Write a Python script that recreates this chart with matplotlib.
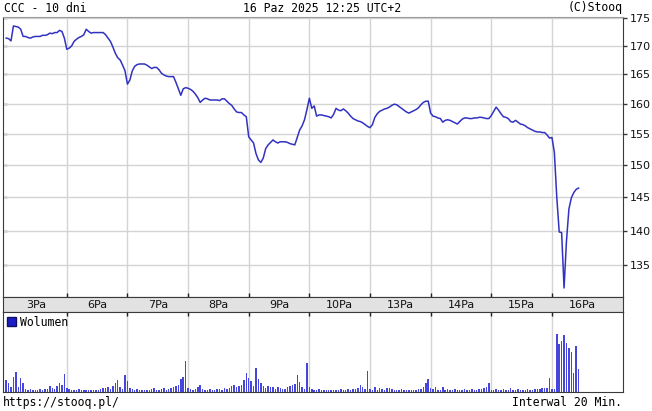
import numpy as np
import matplotlib.pyplot as plt
from matplotlib.patches import Patch
from matplotlib.ticker import FixedLocator, NullLocator, FixedFormatter

# teksty
title_left = "CCC - 10 dni"
title_mid = "16 Paz 2025 12:25 UTC+2"
title_right = "(C)Stooq"
foot_left = "https://stooq.pl/"
foot_right = "Interwal 20 Min."
vol_label = "Wolumen"

days = ["3Pa", "6Pa", "7Pa", "8Pa", "9Pa", "10Pa", "13Pa", "14Pa", "15Pa", "16Pa"]
bars_per_day = 25  # 20-minutowe swiece

price_ticks = [135, 140, 145, 150, 155, 160, 165, 170, 175]

# kurs (zamkniecia swiec 20 min)
p_3pa = [171.4, 171.3, 170.9, 173.6, 173.5, 173.4, 173.0, 171.7, 171.7, 171.5, 171.4, 171.6, 171.7,
         171.7, 171.7, 171.9, 171.9, 172.0, 172.3, 172.2, 172.4, 172.4, 172.8, 172.6, 171.4]
p_6pa = [169.4, 169.6, 170.0, 170.8, 171.2, 171.5, 171.7, 172.0, 173.0, 172.6, 172.3, 172.4, 172.4,
         172.4, 172.4, 172.4, 172.0, 171.4, 170.8, 169.8, 168.7, 167.9, 167.5, 166.6, 165.6]
p_7pa = [163.3, 164.0, 165.6, 166.4, 166.7, 166.8, 166.8, 166.8, 166.6, 166.3, 166.0, 166.2, 166.2,
         165.8, 165.2, 164.9, 164.7, 164.6, 164.6, 164.6, 163.6, 162.5, 161.4, 162.5, 162.7]
p_8pa = [162.6, 162.4, 162.1, 161.6, 161.0, 160.2, 160.6, 160.9, 160.8, 160.6, 160.6, 160.6, 160.6,
         160.5, 160.8, 160.8, 160.4, 160.0, 159.7, 159.1, 158.6, 158.5, 158.5, 158.1, 157.8]
p_9pa = [154.5, 154.0, 153.5, 151.8, 150.8, 150.4, 151.1, 152.6, 153.2, 153.6, 154.0, 153.7, 153.5,
         153.7, 153.7, 153.7, 153.6, 153.4, 153.3, 153.2, 154.4, 155.6, 156.3, 157.3, 159.0]
p_10pa = [160.9, 159.2, 159.6, 157.9, 158.1, 158.1, 158.0, 157.9, 157.8, 157.6, 158.2, 159.2, 158.9,
          158.8, 159.1, 158.8, 158.4, 157.9, 157.5, 157.3, 157.1, 157.0, 156.8, 156.5, 156.2]
p_13pa = [156.0, 156.5, 157.7, 158.3, 158.7, 158.9, 159.1, 159.2, 159.4, 159.7, 159.9, 159.8, 159.5,
          159.2, 158.9, 158.6, 158.4, 158.6, 158.8, 159.0, 159.3, 159.8, 160.2, 160.4, 160.4]
p_14pa = [158.4, 157.9, 157.8, 157.6, 157.5, 156.9, 157.2, 157.3, 157.2, 157.0, 156.8, 156.6, 157.0,
          157.4, 157.6, 157.6, 157.5, 157.5, 157.6, 157.6, 157.7, 157.7, 157.6, 157.5, 157.5]
p_15pa = [158.0, 158.7, 159.4, 158.9, 158.3, 157.8, 157.7, 157.5, 157.0, 156.9, 157.2, 156.9, 156.6,
          156.5, 156.3, 156.0, 155.8, 155.6, 155.4, 155.3, 155.3, 155.2, 155.2, 154.8, 154.3]
p_16pa = [154.4, 152.0, 145.0, 139.8, 139.7, 131.8, 138.5, 143.2, 144.9, 145.7, 146.2, 146.4]

# wolumen (jednostki umowne)
v_3pa = [12, 9, 5, 15, 20, 5, 14, 9, 3, 2, 3, 2, 2, 1.5, 3, 2, 3, 3, 6, 4, 3, 6, 9, 7, 18]
v_6pa = [4, 3, 2, 2, 2, 3, 2, 2, 1.5, 2, 2, 1.5, 2, 2, 3, 4, 4, 5, 3, 6, 9, 12, 5, 3, 17]
v_7pa = [11, 4, 3, 2, 3, 2, 1.5, 2, 2, 2, 3, 4, 2, 2, 3, 4, 2, 3, 4, 5, 6, 7, 13, 15, 31]
v_8pa = [4, 3, 2, 3, 5, 7, 3, 2, 2, 3, 2, 2, 3, 3, 2, 4, 3, 4, 6, 7, 5, 6, 7, 12, 19]
v_9pa = [14, 11, 6, 24, 13, 9, 6, 4, 6, 5, 5, 3, 5, 4, 3, 3, 5, 6, 7, 8, 17, 10, 5, 3, 29]
v_10pa = [5, 3, 2, 2, 3, 2, 1.5, 2, 1.5, 2, 2, 1.5, 2, 3, 2, 2, 3, 2, 3, 3, 4, 7, 5, 3, 21]
v_13pa = [3, 2, 5, 2, 4, 3, 2, 4, 4, 3, 2, 2, 2, 3, 2, 2, 1.5, 2, 2, 2, 3, 3, 5, 9, 13]
v_14pa = [4, 3, 5, 2, 2, 5, 2, 3, 2, 2, 3, 2, 2, 2, 3, 2, 2, 3, 2, 2, 3, 3, 4, 5, 9]
v_15pa = [2, 2, 3, 2, 2, 3, 2, 2, 4, 2, 2, 3, 2, 2, 2, 3, 2, 2, 3, 3, 3, 4, 4, 4, 14]
v_16pa = [3, 3, 58, 48, 51, 57, 49, 44, 40, 19, 46, 23]

price = np.array(p_3pa + p_6pa + p_7pa + p_8pa + p_9pa + p_10pa + p_13pa + p_14pa + p_15pa + p_16pa)
volume = np.array(v_3pa + v_6pa + v_7pa + v_8pa + v_9pa + v_10pa + v_13pa + v_14pa + v_15pa + v_16pa)
t_price = np.arange(len(price))
t_vol = np.arange(len(volume))

line_col = "#3232c2"
bar_col = "#4646dc"
grid_col = "#d4d4d4"
frame_col = "#3a3a3a"
mono = "DejaVu Sans Mono"

W, H = 652, 411
fig = plt.figure(figsize=(W / 100, H / 100), dpi=100)
x0, x1 = 3, 623
ax = fig.add_axes([x0 / W, 1 - 296.7 / H, (x1 - x0) / W, 280 / H])
band = fig.add_axes([x0 / W, 1 - 311.5 / H, (x1 - x0) / W, 14.8 / H])
axv = fig.add_axes([x0 / W, 1 - 391.7 / H, (x1 - x0) / W, 80.2 / H])

xlim = (-1.3, 254.3)
bounds = [bars_per_day * i for i in range(1, len(days))]
centers = [bars_per_day * i + bars_per_day / 2 for i in range(len(days))]

# --- kurs ---
ax.plot(t_price, price, color=line_col, lw=1.1, zorder=3)
ax.set_yscale("log")
ax.set_ylim(130.6, 175.3)
ax.set_xlim(*xlim)
ax.yaxis.set_major_locator(FixedLocator(price_ticks))
ax.yaxis.set_major_formatter(FixedFormatter([str(v) for v in price_ticks]))
ax.yaxis.set_minor_locator(NullLocator())
ax.yaxis.tick_right()
ax.tick_params(axis="y", direction="out", length=3, width=1, color=frame_col,
               labelsize=8, pad=2, labelcolor="#111111")
ax.set_xticks(bounds)
ax.tick_params(axis="x", direction="in", length=3, width=1, color="#222222",
               labelbottom=False, bottom=True, top=False)
ax.grid(True, color=grid_col, lw=1)
left = ax.secondary_yaxis("left")
left.set_yticks(price_ticks)
left.tick_params(direction="in", length=3, width=1, color=frame_col, labelleft=False)
left.spines["left"].set_visible(False)
for s in ax.spines.values():
    s.set_color(frame_col)
ax.spines["top"].set_color("#9a9a9a")

# --- pasek dat ---
band.set_facecolor("#e2e2e2")
band.set_xlim(*xlim)
band.set_ylim(0, 1)
band.set_xticks([])
band.set_yticks([])
for c, d in zip(centers, days):
    band.text(c, 0.45, d, ha="center", va="center", fontsize=8, color="#111111")
for s in band.spines.values():
    s.set_color(frame_col)

# --- wolumen ---
axv.bar(t_vol, volume, width=0.6, color=bar_col, zorder=3)
axv.set_xlim(*xlim)
axv.set_ylim(0, 80.2)
axv.set_yticks([])
axv.set_xticks(bounds)
axv.tick_params(axis="x", direction="in", length=3, width=1, color="#222222",
                labelbottom=False, bottom=False, top=True)
axv.grid(True, axis="x", color=grid_col, lw=1)
for s in axv.spines.values():
    s.set_color(frame_col)
axv.legend(handles=[Patch(facecolor="#1c1cc8", edgecolor="#101060")], labels=[vol_label],
           loc="upper left", frameon=False, prop={"family": mono, "size": 8.3},
           handlelength=0.75, handleheight=0.75, handletextpad=0.4,
           borderaxespad=0.15, borderpad=0.2)

# --- opisy ---
fig.text(4 / W, 1 - 8 / H, title_left, family=mono, fontsize=8.3, va="center", ha="left")
fig.text(322.5 / W, 1 - 8 / H, title_mid, family=mono, fontsize=8.3, va="center", ha="center")
fig.text(622.5 / W, 1 - 8 / H, title_right, family=mono, fontsize=8.3, va="center", ha="right")
fig.text(2.5 / W, 1 - 402.5 / H, foot_left, family=mono, fontsize=8.3, va="center", ha="left")
fig.text(622 / W, 1 - 402.5 / H, foot_right, family=mono, fontsize=8.3, va="center", ha="right")

fig.savefig("out.png", dpi=100)
